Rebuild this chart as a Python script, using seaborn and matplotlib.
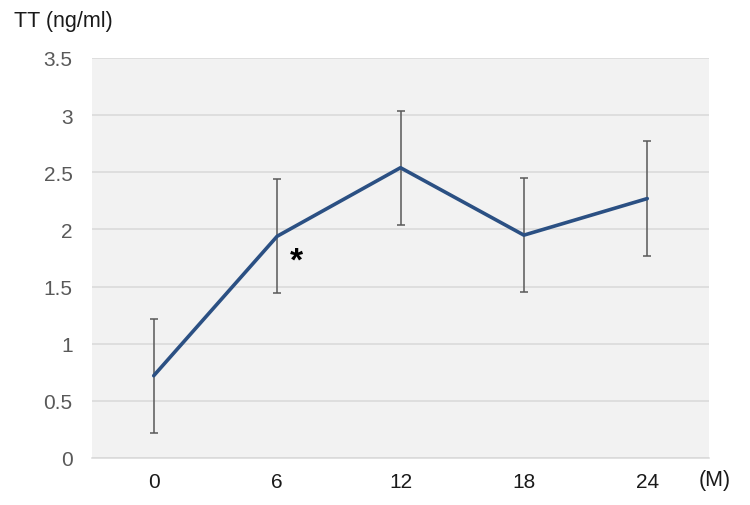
import numpy as np
import matplotlib
matplotlib.use("Agg")
import matplotlib.pyplot as plt
import seaborn as sns

# data
months = ["0", "6", "12", "18", "24"]
tt_mean = [0.72, 1.94, 2.54, 1.95, 2.27]
tt_err = [0.5, 0.5, 0.5, 0.5, 0.5]
y_ticks = [0, 0.5, 1, 1.5, 2, 2.5, 3, 3.5]

sns.set_theme(style="white")
plt.rcParams['font.family'] = ['Liberation Sans', 'DejaVu Sans']

fig = plt.figure(figsize=(7.5, 5.06), dpi=100)
ax = fig.add_axes([0.1227, 0.0929, 0.8226, 0.7905])
ax.set_facecolor("#f2f2f2")

pos = np.arange(len(months))

# error bars behind the line
ax.errorbar(pos, tt_mean, yerr=tt_err, fmt="none", ecolor="#595959",
            elinewidth=1.1, capsize=3, capthick=1.1, zorder=2)
sns.lineplot(x=pos, y=tt_mean, ax=ax, color="#2b5083", linewidth=2.6,
             zorder=3)

# significance marker
ax.text(1.16, 1.72, "*", fontsize=24, ha="center", va="center",
        color="black", fontweight="bold")

ax.set_xlim(-0.5, len(months) - 0.5)
ax.set_ylim(0, 3.5)
ax.set_yticks(y_ticks)
ax.set_yticklabels([f"{t:g}" for t in y_ticks], color="#595959", fontsize=15)
ax.set_xticks(pos)
ax.set_xticklabels(months, color="#1a1a1a", fontsize=15)
ax.tick_params(axis="y", length=0, pad=14)
ax.tick_params(axis="x", length=0, pad=10)

ax.yaxis.grid(True, color="#d9d9d9", linewidth=1.1)
ax.xaxis.grid(False)
ax.set_axisbelow(True)
for s in ["top", "right", "left"]:
    ax.spines[s].set_visible(False)
ax.spines["bottom"].set_color("#d9d9d9")
ax.spines["bottom"].set_linewidth(1.1)

ax.set_xlabel("")
ax.set_ylabel("")
fig.text(14 / 750, 1 - 22 / 506, "TT (ng/ml)", fontsize=15.5, ha="left",
         va="center", color="#1a1a1a")
fig.text(715 / 750, 1 - 481 / 506, "(M)", fontsize=15.5, ha="center",
         va="center", color="#1a1a1a")

fig.savefig("out.png", dpi=100)
